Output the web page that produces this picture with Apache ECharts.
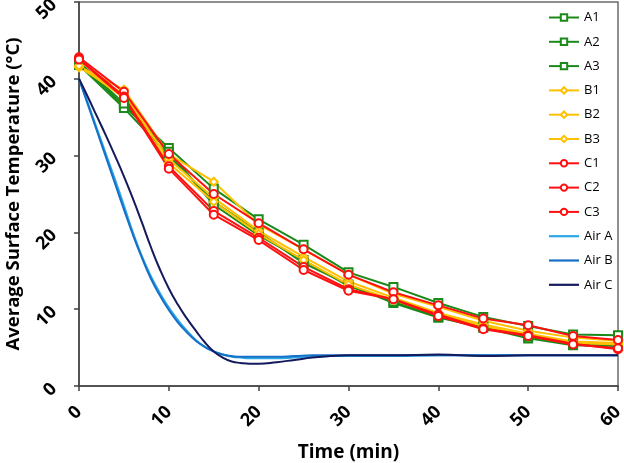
<!DOCTYPE html>
<html>
<head>
<meta charset="utf-8">
<script src="https://cdn.jsdelivr.net/npm/echarts@6/dist/echarts.min.js"></script>
<style>
  html, body { margin: 0; padding: 0; background: #fff; }
  #chart { width: 624px; height: 463px; }
</style>
</head>
<body>
<div id="chart"></div>
<script>
'use strict';
/* surface temperature vs time */

var times = [0, 5, 10, 15, 20, 25, 30, 35, 40, 45, 50, 55, 60];
var a1 = [42.0, 36.5, 31.0, 25.7, 21.7, 18.4, 14.8, 12.9, 10.8, 9.0, 7.8, 6.7, 6.6];
var a2 = [41.8, 36.2, 30.0, 24.0, 20.0, 16.0, 13.2, 10.8, 8.9, 7.6, 6.2, 5.3, 5.2];
var a3 = [42.2, 36.8, 30.5, 23.6, 19.6, 16.4, 13.0, 11.0, 9.0, 7.7, 6.4, 5.5, 5.3];
var b1 = [41.6, 38.6, 30.2, 26.6, 21.0, 17.8, 14.5, 12.0, 10.3, 8.5, 7.2, 6.3, 5.9];
var b2 = [41.5, 38.0, 29.5, 24.5, 20.2, 16.8, 13.6, 11.5, 9.5, 8.0, 6.8, 5.8, 5.6];
var b3 = [41.7, 37.5, 29.0, 24.0, 19.8, 16.4, 13.2, 11.2, 9.3, 7.8, 6.6, 5.6, 5.4];
var c1 = [42.8, 38.3, 30.2, 25.0, 21.2, 17.8, 14.5, 12.2, 10.5, 8.8, 7.9, 6.5, 6.0];
var c2 = [42.6, 37.7, 28.6, 22.8, 19.3, 15.5, 12.6, 11.3, 9.3, 7.5, 6.6, 5.5, 4.8];
var c3 = [42.5, 37.5, 28.3, 22.3, 19.0, 15.1, 12.4, 11.3, 9.1, 7.4, 6.5, 5.4, 4.9];

var airTimes = [0, 1, 2, 3, 4, 5, 6, 7, 8, 9, 10, 11, 12, 13, 14, 15, 16, 17, 18, 19, 20, 22, 24, 26, 28, 30, 35, 40, 45, 50, 55, 60];
var airA = [40, 36.8, 33.5, 30.2, 26.9, 23.5, 20.0, 16.9, 14.3, 12.1, 10.2, 8.6, 7.2, 6.0, 5.1, 4.5, 4.1, 3.8, 3.7, 3.6, 3.6, 3.6, 3.7, 3.8, 3.9, 3.9, 3.9, 4.0, 4.0, 4.0, 4.0, 4.0];
var airB = [40, 36.6, 33.2, 29.8, 26.4, 23.0, 19.7, 16.7, 14.0, 11.8, 9.9, 8.3, 7.0, 5.9, 5.1, 4.5, 4.1, 3.9, 3.8, 3.8, 3.8, 3.8, 3.9, 4.0, 4.0, 4.0, 4.0, 4.0, 4.0, 4.0, 4.0, 4.0];
var airC = [40, 37.6, 35.1, 32.6, 30.0, 27.3, 24.4, 21.3, 18.1, 15.2, 12.7, 10.6, 8.8, 7.2, 5.7, 4.5, 3.7, 3.2, 3.0, 2.9, 2.9, 3.1, 3.4, 3.7, 3.9, 4.0, 4.0, 4.1, 3.9, 4.0, 4.0, 4.0];

var FONT = 'Open Sans';
var LINE_ICON = 'path://M0,0 L30,0 L30,2.2 L0,2.2 Z';

function pairs(xs, ys) {
  var out = [];
  for (var i = 0; i < xs.length; i++) {
    out.push([xs[i], ys[i]]);
  }
  return out;
}

function markerSeries(name, values, color, symbol) {
  return {
    name: name,
    type: 'line',
    data: pairs(times, values),
    symbol: symbol,
    symbolSize: 8,
    lineStyle: { color: color, width: 2 },
    itemStyle: { color: color, borderColor: color, borderWidth: 1.5 },
    emphasis: { disabled: true }
  };
}

function airSeries(name, values, color) {
  return {
    name: name,
    type: 'line',
    data: pairs(airTimes, values),
    symbol: 'none',
    smooth: true,
    lineStyle: { color: color, width: 2 },
    itemStyle: { color: color },
    emphasis: { disabled: true }
  };
}

var green = '#1b8a1b';
var yellow = '#ffc000';
var red = '#ff1010';

var chart = echarts.init(document.getElementById('chart'));
var option = {
  animation: false,
  textStyle: { fontFamily: FONT },
  grid: {
    left: 79, right: 6, top: 2, bottom: 77,
    outerBoundsMode: 'none',
    containLabel: false,
    show: true, borderColor: '#6b6b6b', borderWidth: 1.5
  },
  legend: {
    orient: 'vertical',
    left: 543,
    top: 6,
    itemWidth: 30,
    itemHeight: 8,
    itemGap: 11.3,
    textStyle: { fontFamily: FONT, fontSize: 13, color: '#000' },
    data: ['A1', 'A2', 'A3', 'B1', 'B2', 'B3', 'C1', 'C2', 'C3',
      { name: 'Air A', icon: LINE_ICON },
      { name: 'Air B', icon: LINE_ICON },
      { name: 'Air C', icon: LINE_ICON }]
  },
  xAxis: {
    type: 'value',
    min: 0, max: 60, interval: 10,
    name: 'Time (min)',
    nameLocation: 'middle',
    nameGap: 57,
    nameTextStyle: { fontFamily: FONT, fontSize: 19, fontWeight: 'bold', color: '#000' },
    axisLine: { lineStyle: { color: '#404040', width: 1.5 } },
    axisTick: { show: true, length: 5, lineStyle: { color: '#404040', width: 1.5 } },
    axisLabel: { rotate: 45, margin: 23, fontFamily: FONT, fontSize: 18, fontWeight: 'bold', color: '#000' },
    splitLine: { show: false }
  },
  yAxis: {
    type: 'value',
    min: 0, max: 50, interval: 10,
    name: 'Average Surface Temperature (°C)',
    nameLocation: 'middle',
    nameGap: 56,
    nameTextStyle: { fontFamily: FONT, fontSize: 18.5, fontWeight: 'bold', color: '#000' },
    axisLine: { show: true, lineStyle: { color: '#404040', width: 1.5 } },
    axisTick: { show: true, length: 5, lineStyle: { color: '#404040', width: 1.5 } },
    axisLabel: { rotate: 45, margin: 25, fontFamily: FONT, fontSize: 18, fontWeight: 'bold', color: '#000' },
    splitLine: { show: false }
  },
  series: [
    markerSeries('A1', a1, green, 'emptyRect'),
    markerSeries('A2', a2, green, 'emptyRect'),
    markerSeries('A3', a3, green, 'emptyRect'),
    markerSeries('B1', b1, yellow, 'emptyDiamond'),
    markerSeries('B2', b2, yellow, 'emptyDiamond'),
    markerSeries('B3', b3, yellow, 'emptyDiamond'),
    markerSeries('C1', c1, red, 'emptyCircle'),
    markerSeries('C2', c2, red, 'emptyCircle'),
    markerSeries('C3', c3, red, 'emptyCircle'),
    airSeries('Air A', airA, '#2aa8e6'),
    airSeries('Air B', airB, '#1670c8'),
    airSeries('Air C', airC, '#141a5c')
  ]
};
chart.setOption(option);
</script>
</body>
</html>
